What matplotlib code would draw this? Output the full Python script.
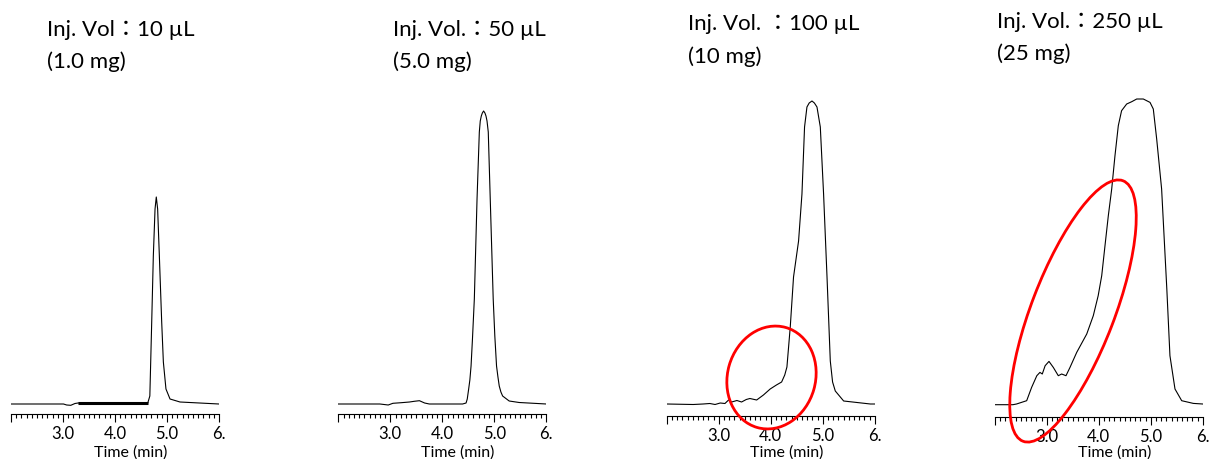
import matplotlib
matplotlib.use("Agg")
import matplotlib.pyplot as plt
from matplotlib.patches import Ellipse
from matplotlib.ticker import MultipleLocator

plt.rcParams['font.family'] = ['Lato', 'Noto Sans CJK JP', 'DejaVu Sans']

# retention time (min) / detector response
t_10 = [2.0, 3.01, 3.07, 3.15, 3.23, 3.29, 4.0, 4.63, 4.67, 4.706, 4.737, 4.77, 4.794,
        4.82, 4.853, 4.898, 4.93, 4.98, 5.058, 5.25, 6.0]
y_10 = [0, 0, -1, -1.3, 0.5, 1, 1, 1, 8, 82, 148, 195, 207,
        195, 148, 82, 42, 15, 5, 2, 0]

t_50 = [2.0, 2.8, 2.96, 3.05, 3.21, 3.37, 3.46, 3.56, 3.66, 3.75, 4.39, 4.457, 4.48,
        4.507, 4.53, 4.553, 4.58, 4.616, 4.668, 4.712, 4.73, 4.75, 4.77, 4.794, 4.82,
        4.84, 4.86, 4.884, 4.922, 4.979, 5.01, 5.043, 5.07, 5.095, 5.127, 5.16, 5.286,
        5.478, 6.0]
y_50 = [0, 0, -1, 0.7, 1.3, 2, 2.7, 3.3, 1, 0, 0, 1, 5,
        15, 24, 38, 65, 105, 205, 272, 283, 288, 291, 293, 291,
        288, 283, 272, 205, 105, 68, 38, 27, 18, 12, 8, 3,
        1.5, 0]

t_100 = [2.0, 2.51, 2.7, 2.83, 2.93, 3.03, 3.12, 3.19, 3.25, 3.35, 3.44, 3.53, 3.6,
         3.73, 3.86, 3.99, 4.11, 4.21, 4.27, 4.312, 4.376, 4.439, 4.536, 4.601, 4.651,
         4.697, 4.74, 4.794, 4.84, 4.89, 4.954, 5.017, 5.083, 5.146, 5.19, 5.242, 5.403,
         5.917, 6.0]
y_100 = [0, -0.5, 0, 0.5, -0.5, 1, 0.5, 4, 2, 3.5, 2, 4.5, 5.5,
         4, 9, 15, 19, 22, 29, 37, 77, 127, 163, 210, 277,
         297, 301, 303, 301, 297, 277, 210, 127, 43, 22, 13, 3,
         0, 0]

t_250 = [2.0, 2.35, 2.42, 2.615, 2.71, 2.81, 2.87, 2.915, 2.97, 3.044, 3.127, 3.223,
         3.288, 3.371, 3.448, 3.577, 3.77, 3.896, 3.99, 4.058, 4.121, 4.185, 4.25,
         4.313, 4.377, 4.44, 4.538, 4.635, 4.731, 4.858, 4.987, 5.05, 5.115, 5.21,
         5.31, 5.37, 5.467, 5.596, 5.82, 6.0]
y_250 = [0, 0, 0.7, 4, 17.3, 29, 32.3, 30.7, 39, 43.3, 37.3, 29,
         30.7, 29, 37.3, 52.3, 70.7, 89, 109, 129, 159, 189, 215.7,
         249, 279, 294, 300.7, 303, 305.7, 305.7, 302.3, 295.7, 265.7, 215.7,
         115.7, 49, 15.7, 4, 1.3, 0.7]

titles = [("Inj. Vol\uff1a10 \u00b5L", "(1.0 mg)"),
          ("Inj. Vol.\uff1a50 \u00b5L", "(5.0 mg)"),
          ("Inj. Vol. \uff1a100 \u00b5L", "(10 mg)"),
          ("Inj. Vol.\uff1a250 \u00b5L", "(25 mg)")]
tick_pos = [2, 3, 4, 5, 6]
tick_lab = ["", "3.0", "4.0", "5.0", "6."]

W, H = 1209, 460
fig = plt.figure(figsize=(W / 100, H / 100), dpi=100)

lefts = [11, 338.3, 666.7, 994.7]
axis_y = [415, 415, 416.5, 418]
base_y = [405, 405, 405, 405.7]
top_y = 90
title_y = [(36, 68), (36, 68), (30, 63), (28, 60)]
title_x = [47, 393, 688, 997]

series = [(t_10, y_10), (t_50, y_50), (t_100, y_100), (t_250, y_250)]

for i, (t, y) in enumerate(series):
    ax = fig.add_axes([lefts[i] / W, (H - axis_y[i]) / H, 208 / W, (axis_y[i] - top_y) / H])
    ax.plot(t, y, color='black', lw=0.8)
    if i == 0:
        # thick noisy band before the main peak
        tb = [v for v in t if 3.25 <= v <= 4.65]
        yb = [y[k] for k, v in enumerate(t) if 3.25 <= v <= 4.65]
        ax.plot(tb, yb, color='black', lw=2.2, solid_capstyle='butt')
    ax.set_xlim(2, 6)
    ax.set_ylim(-(axis_y[i] - base_y[i]), base_y[i] - top_y)
    for s in ['left', 'top', 'right']:
        ax.spines[s].set_visible(False)
    ax.spines['bottom'].set_linewidth(0.8)
    ax.set_yticks([])
    ax.set_xticks(tick_pos)
    ax.set_xticklabels(tick_lab, fontsize=12)
    ax.xaxis.set_minor_locator(MultipleLocator(0.1))
    ax.tick_params(axis='x', which='major', direction='out', length=6, width=0.8, pad=2)
    ax.tick_params(axis='x', which='minor', direction='out', length=3, width=0.8)
    ax.set_xlabel("Time (min)", fontsize=11.5)
    ax.xaxis.set_label_coords(0.575, -(445 - axis_y[i]) / (axis_y[i] - top_y))

    l1, l2 = titles[i]
    fig.text(title_x[i] / W, 1 - title_y[i][0] / H, l1, fontsize=16, va='baseline')
    fig.text(title_x[i] / W, 1 - title_y[i][1] / H, l2, fontsize=16, va='baseline')

# red highlight ellipses (pixel positions -> inches)
fig.add_artist(Ellipse((771.5 / 100, (H - 378.5) / 100), 1.04, 0.88, angle=74,
                       transform=fig.dpi_scale_trans, fill=False, ec='red', lw=2))
fig.add_artist(Ellipse((1073 / 100, (H - 312) / 100), 2.79, 0.83, angle=69,
                       transform=fig.dpi_scale_trans, fill=False, ec='red', lw=2))

fig.savefig("out.png", dpi=100)
